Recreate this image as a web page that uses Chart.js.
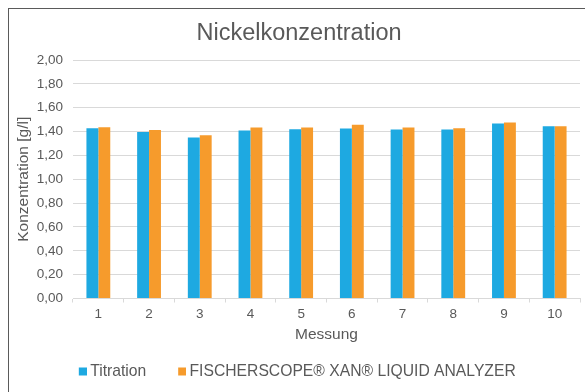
<!DOCTYPE html>
<html>
<head>
<meta charset="utf-8">
<script src="https://cdn.jsdelivr.net/npm/chart.js@4/dist/chart.umd.min.js"></script>
<style>
  html, body { margin: 0; padding: 0; background: #fff; }
  body { width: 585px; height: 392px; position: relative; overflow: hidden; }
  #frame { position: absolute; left: 8px; top: 8px; width: 577px; height: 384px;
           border-left: 1.5px solid #5a5a5a; border-top: 1.5px solid #5a5a5a; box-sizing: border-box; }
  #wrap { position: absolute; left: 10px; top: 10px; width: 575px; height: 382px; }
</style>
</head>
<body>
<div id="frame"></div>
<div id="wrap"><canvas id="c"></canvas></div>
<script>
const categories = ['1', '2', '3', '4', '5', '6', '7', '8', '9', '10'];
const titrationValues = [1.428, 1.397, 1.350, 1.408, 1.419, 1.425, 1.417, 1.417, 1.467, 1.444];
const xanValues       = [1.436, 1.414, 1.370, 1.433, 1.433, 1.458, 1.433, 1.428, 1.475, 1.444];
const seriesNames = ['Titration', 'FISCHERSCOPE\u00AE XAN\u00AE LIQUID ANALYZER'];
const seriesColors = ['#1EA9E1', '#F69B2C'];
const yTicks = [0, 0.2, 0.4, 0.6, 0.8, 1.0, 1.2, 1.4, 1.6, 1.8, 2.0];

const FONT = "'Liberation Sans', Arial, sans-serif";
const TXT = '#595959';

function legendSquare(color) {
  const cv = document.createElement('canvas');
  cv.width = 9; cv.height = 9;
  const g = cv.getContext('2d');
  g.fillStyle = color;
  g.fillRect(1, 0.5, 8, 8);
  return cv;
}
const squares = seriesColors.map(legendSquare);

new Chart(document.getElementById('c'), {
  type: 'bar',
  data: {
    labels: categories,
    datasets: [
      { label: seriesNames[0], data: titrationValues, backgroundColor: seriesColors[0], borderWidth: 0 },
      { label: seriesNames[1], data: xanValues, backgroundColor: seriesColors[1], borderWidth: 0 }
    ]
  },
  options: {
    responsive: true,
    maintainAspectRatio: false,
    animation: false,
    layout: { padding: { left: 3, right: 0, top: 0, bottom: 2.65 } },
    datasets: { bar: { categoryPercentage: 0.47, barPercentage: 1.0 } },
    plugins: {
      title: {
        display: true, text: 'Nickelkonzentration', color: TXT,
        font: { family: FONT, size: 23.5, weight: 'normal' },
        padding: { top: 9, bottom: 12.8 }
      },
      legend: {
        position: 'bottom',
        labels: {
          color: TXT, font: { family: FONT, size: 15.7 },
          usePointStyle: true, boxWidth: 0.01, boxHeight: 8, padding: 35.45,
          generateLabels: (chart) => {
            const items = Chart.defaults.plugins.legend.labels.generateLabels(chart);
            items.forEach((it, i) => { it.pointStyle = squares[i]; it.fontColor = TXT; });
            return items;
          }
        }
      },
      tooltip: { enabled: false }
    },
    scales: {
      x: {
        grid: { drawOnChartArea: false, drawTicks: true, tickLength: 4, color: '#d9d9d9', offset: true },
        border: { display: true, color: '#d9d9d9' },
        ticks: { color: TXT, font: { family: FONT, size: 13.5 }, padding: 3.4 },
        title: { display: true, text: 'Messung', color: TXT, font: { family: FONT, size: 15.5 }, padding: { top: 0, bottom: -16.1 } },
        afterFit: (s) => { s.height = 29.7; }
      },
      y: {
        min: 0, max: 2,
        afterBuildTicks: (s) => { s.ticks = yTicks.map(v => ({ value: v })); },
        grid: { drawTicks: false, color: '#d9d9d9' },
        border: { display: false },
        ticks: {
          color: TXT, font: { family: FONT, size: 13.5 }, padding: 10,
          callback: (v) => Number(v).toFixed(2).replace('.', ',')
        },
        title: { display: true, text: 'Konzentration [g/l]', color: TXT, font: { family: FONT, size: 15.5 }, padding: { top: 1.7, bottom: 0 } },
        afterFit: (s) => { s.width = 60; }
      },
      yRight: {
        position: 'right', display: true,
        grid: { display: false, drawTicks: false },
        border: { display: false },
        ticks: { display: false },
        afterFit: (s) => { s.width = 5; }
      }
    }
  }
});
</script>
</body>
</html>
